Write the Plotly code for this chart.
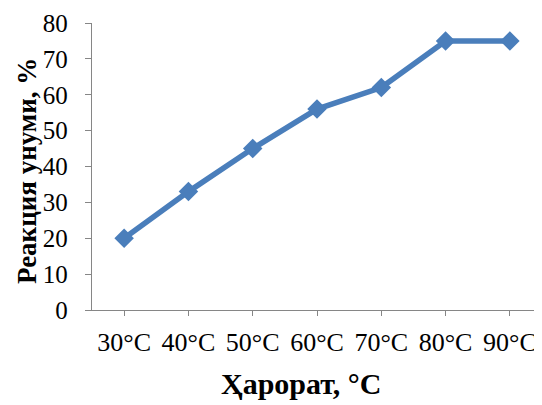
import plotly.graph_objects as go

categories = ["30°C", "40°C", "50°C", "60°C", "70°C", "80°C", "90°C"]
yields = [20, 33, 45, 56, 62, 75, 75]

y_title = "Реакция унуми, %"
x_title = "Ҳарорат, °C"

BLUE = "#4A7EBB"
AXIS = "#868686"
FONT = "Liberation Serif, Times New Roman, serif"

OFF = 8  # default page body margin
FW, FH = 542 - OFF, 405 - OFF
L, T, W, H = 92 - OFF, 23 - OFF, 450, 287

fig = go.Figure()
fig.add_trace(go.Scatter(
    x=categories, y=yields, mode="lines+markers",
    line=dict(color=BLUE, width=5.5),
    marker=dict(symbol="diamond", size=15, color=BLUE),
    showlegend=False, cliponaxis=False,
))

fig.update_layout(
    width=FW, height=FH,
    margin=dict(l=L, r=FW - L - W, t=T, b=FH - T - H, autoexpand=False),
    paper_bgcolor="white", plot_bgcolor="white",
    font=dict(family=FONT, color="black"),
    xaxis=dict(
        type="category", categoryarray=categories, range=[-0.5, len(categories) - 0.5],
        showline=True, linecolor=AXIS, linewidth=1.3, automargin=False,
        ticks="outside", ticklen=5, tickcolor=AXIS, tickwidth=1.3,
        tickfont=dict(size=26, family=FONT), showgrid=False, zeroline=False,
        ticklabelstandoff=4,
    ),
    xaxis2=dict(
        overlaying="x", anchor="y", side="bottom", range=[-0.5, len(categories) - 0.5],
        tickmode="array", tickvals=list(range(len(categories))),
        ticks="inside", ticklen=5, tickcolor=AXIS, tickwidth=1.3, automargin=False,
        showticklabels=False, showgrid=False, showline=False, zeroline=False,
    ),
    yaxis=dict(
        range=[0, 80], dtick=10, showline=True, linecolor=AXIS, linewidth=1.3, automargin=False,
        ticks="outside", ticklen=6, tickcolor=AXIS, tickwidth=1.3,
        tickfont=dict(size=25, family=FONT), showgrid=False, zeroline=False,
        ticklabelstandoff=12,
    ),
    annotations=[
        dict(
            text=f"<b>{x_title}</b>", xref="paper", yref="paper", x=(301 - 92) / W,
            y=-(383 - 23 - H) / H,
            xanchor="center", yanchor="middle", showarrow=False,
            font=dict(size=30, family=FONT, color="black"),
        ),
        dict(
            text=f"<b>{y_title}</b>", xref="paper", yref="paper", x=-(92 - 27) / W,
            y=(23 + H - 171) / H, textangle=-90,
            xanchor="center", yanchor="middle", showarrow=False,
            font=dict(size=27, family=FONT, color="black"),
        ),
    ],
)

fig.write_html("out.html")
